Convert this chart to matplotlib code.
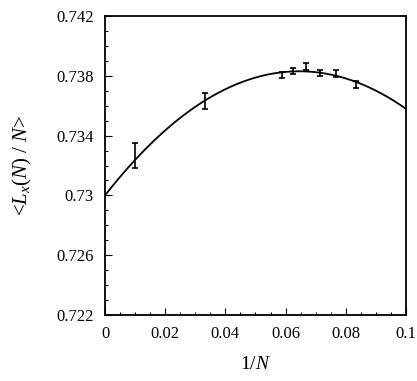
import numpy as np
import matplotlib
matplotlib.use("Agg")
import matplotlib.pyplot as plt
from matplotlib.ticker import MultipleLocator, FixedLocator

plt.rcParams['font.family'] = ['Liberation Serif', 'DejaVu Serif']
plt.rcParams['mathtext.fontset'] = 'custom'
plt.rcParams['mathtext.rm'] = 'Liberation Serif'
plt.rcParams['mathtext.it'] = 'Liberation Serif:italic'

# simulation points: 1/N, mean and error
inv_n = [0.01, 0.0333, 0.0588, 0.0625, 0.0667, 0.0714, 0.0769, 0.0833]
lx_mean = [0.73265, 0.73633, 0.73805, 0.73833, 0.73863, 0.73819, 0.73817, 0.73742]
lx_err = [0.00083, 0.00055, 0.00022, 0.00021, 0.00025, 0.0002, 0.00024, 0.00026]

# quadratic fit, highest power first
fit_coeffs = [-1.995, 0.2574, 0.730]

xticks = [0, 0.02, 0.04, 0.06, 0.08, 0.1]
xtick_labels = ['0', '0.02', '0.04', '0.06', '0.08', '0.1']
yticks = [0.722, 0.726, 0.73, 0.734, 0.738, 0.742]
ytick_labels = ['0.722', '0.726', '0.73', '0.734', '0.738', '0.742']

fig = plt.figure(figsize=(4.17, 3.81), dpi=100)
ax = fig.add_axes([0.2518, 0.1732, 0.7218, 0.7848])

xs = np.linspace(0, 0.1, 300)
ax.plot(xs, np.polyval(fit_coeffs, xs), color='black', lw=1.3)
ax.errorbar(inv_n, lx_mean, yerr=lx_err, fmt='none', ecolor='black',
            elinewidth=1.2, capsize=2.3, capthick=1.2)

ax.set_xlim(0, 0.1)
ax.set_ylim(0.722, 0.742)
ax.xaxis.set_major_locator(FixedLocator(xticks))
ax.set_xticklabels(xtick_labels)
ax.yaxis.set_major_locator(FixedLocator(yticks))
ax.set_yticklabels(ytick_labels)
ax.xaxis.set_minor_locator(MultipleLocator(0.005))
ax.yaxis.set_minor_locator(MultipleLocator(0.001))
ax.tick_params(which='both', direction='in', top=False, right=False,
               labelsize=12, width=0.8)
ax.tick_params(which='major', length=5, pad=8)
ax.tick_params(which='minor', length=2.5)
for s in ax.spines.values():
    s.set_linewidth(1.3)

ax.set_xlabel('1/$N$', fontsize=14, labelpad=10)
ax.set_ylabel('<$L_x$($N$) / $N$>', fontsize=15, labelpad=16)

fig.savefig('out.png', dpi=100)
